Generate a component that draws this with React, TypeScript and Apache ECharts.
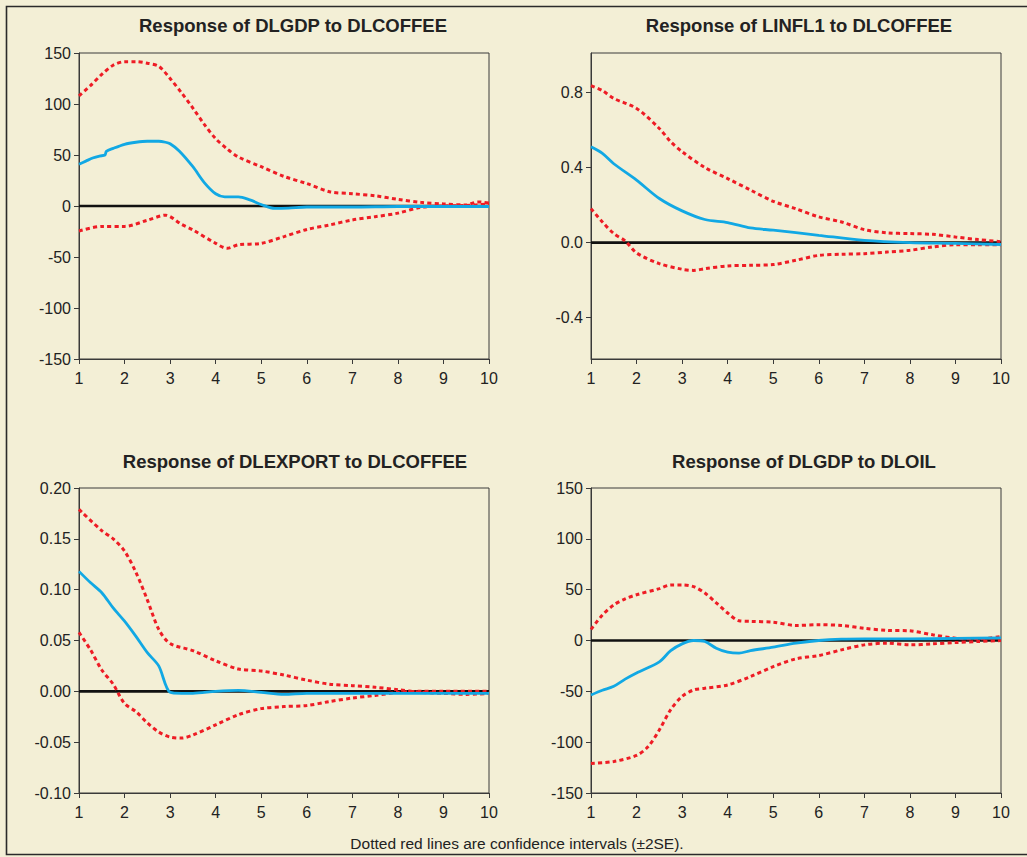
import React, { useEffect, useRef } from "react";
import * as echarts from "echarts";

// ---- Data ----
// Panel 1: Response of DLGDP to DLCOFFEE
const p1Resp: [number, number][] = [
  [1, 41], [1.15, 44], [1.3, 47], [1.45, 49], [1.57, 50], [1.6, 53.5], [1.75, 56.5], [2, 60.5],
  [2.25, 62.5], [2.5, 63.5], [2.75, 63.5], [2.9, 62.5], [3, 61], [3.2, 54], [3.5, 38.5],
  [3.75, 23], [4, 12], [4.2, 9], [4.5, 9], [4.75, 6], [5, 1.5], [5.3, -2.3], [5.6, -2],
  [6, -1], [7, -1], [8, -0.5], [9, -0.5], [10, -0.5],
];
const p1Upper: [number, number][] = [
  [1, 108], [1.25, 118], [1.5, 129], [1.75, 138], [2, 141.5], [2.25, 141.5], [2.5, 140],
  [2.75, 137], [3, 125], [3.25, 111], [3.5, 96], [3.75, 80], [4, 66], [4.25, 56], [4.5, 48],
  [5, 38.5], [5.5, 29], [6, 22], [6.5, 14], [7, 12], [7.5, 10], [8, 6.5], [8.5, 3.6],
  [9, 2], [9.5, 1], [9.75, 4], [10, 3],
];
const p1Lower: [number, number][] = [
  [1, -24.5], [1.5, -20], [2, -20], [2.5, -14], [2.9, -9], [3.25, -18], [3.5, -23.5],
  [4, -36.6], [4.25, -41.5], [4.5, -38], [5, -36.6], [5.5, -30], [6, -23], [6.5, -18.6],
  [7, -13.7], [7.5, -10.5], [8, -7], [8.5, -1.3], [9, 0], [9.5, 0.5], [10, 2],
];

// Panel 2: Response of LINFL1 to DLCOFFEE
const p2Resp: [number, number][] = [
  [1, 0.51], [1.25, 0.475], [1.5, 0.42], [2, 0.333], [2.5, 0.235], [3, 0.169], [3.5, 0.123],
  [4, 0.107], [4.5, 0.078], [5, 0.066], [6, 0.039], [7, 0.012], [8, 0], [9, -0.004], [10, -0.01],
];
const p2Upper: [number, number][] = [
  [1, 0.836], [1.25, 0.81], [1.5, 0.768], [2, 0.715], [2.5, 0.608], [2.75, 0.537], [3, 0.484],
  [3.5, 0.4], [4, 0.341], [4.5, 0.28], [5, 0.22], [5.5, 0.18], [6, 0.137], [6.5, 0.11],
  [7, 0.069], [7.5, 0.052], [8, 0.048], [8.5, 0.044], [9, 0.03], [9.5, 0.016], [10, 0.005],
];
const p2Lower: [number, number][] = [
  [1, 0.181], [1.25, 0.11], [1.5, 0.048], [1.75, 0.009], [2, -0.055], [2.5, -0.112],
  [3, -0.142], [3.25, -0.148], [3.5, -0.139], [4, -0.124], [4.5, -0.121], [5, -0.117],
  [5.5, -0.094], [6, -0.068], [6.5, -0.062], [7, -0.059], [7.5, -0.05], [8, -0.041],
  [8.5, -0.023], [9, -0.011], [9.5, -0.011], [10, -0.011],
];

// Panel 3: Response of DLEXPORT to DLCOFFEE
const p3Resp: [number, number][] = [
  [1, 0.118], [1.25, 0.107], [1.5, 0.097], [1.75, 0.082], [2, 0.069], [2.25, 0.054],
  [2.5, 0.038], [2.75, 0.025], [3, -0.001], [3.25, -0.002], [3.5, -0.002], [4, 0],
  [4.5, 0.001], [5, -0.001], [5.5, -0.003], [6, -0.002], [7, -0.002], [8, -0.002],
  [9, -0.002], [10, -0.002],
];
const p3Upper: [number, number][] = [
  [1, 0.179], [1.5, 0.158], [1.75, 0.15], [2, 0.138], [2.25, 0.117], [2.5, 0.09],
  [2.75, 0.061], [3, 0.047], [3.5, 0.04], [4, 0.03], [4.5, 0.022], [5, 0.02], [5.5, 0.016],
  [6, 0.011], [6.5, 0.007], [7, 0.0056], [7.5, 0.004], [8, 0.0016], [8.5, -0.001],
  [9, -0.002], [9.5, -0.003], [10, -0.002],
];
const p3Lower: [number, number][] = [
  [1, 0.058], [1.25, 0.041], [1.5, 0.021], [1.75, 0.007], [2, -0.012], [2.25, -0.02],
  [2.5, -0.031], [2.75, -0.04], [3, -0.045], [3.25, -0.046], [3.5, -0.043], [4, -0.033],
  [4.5, -0.023], [5, -0.017], [5.5, -0.015], [6, -0.014], [6.5, -0.01], [7, -0.0066],
  [7.5, -0.004], [8, -0.001], [8.5, 0], [9, 0], [10, 0],
];

// Panel 4: Response of DLGDP to DLOIL
const p4Resp: [number, number][] = [
  [1, -53.6], [1.25, -49], [1.5, -45], [1.75, -38], [2, -32], [2.5, -21], [2.75, -10],
  [3, -3.3], [3.25, 0], [3.5, -1], [3.75, -7.6], [4, -11.5], [4.25, -12.5], [4.5, -10],
  [5, -6.6], [5.5, -2.6], [6, 0], [6.5, 1.3], [7, 1.6], [8, 1.6], [9, 2], [10, 2.6],
];
const p4Upper: [number, number][] = [
  [1, 11], [1.25, 25], [1.5, 35], [1.75, 41], [2, 45], [2.5, 51], [2.75, 54.6], [3, 54.6],
  [3.25, 53], [3.5, 46.7], [3.75, 37], [4, 27], [4.25, 19.4], [4.5, 18.8], [5, 18],
  [5.5, 14.8], [6, 15.5], [6.5, 14.8], [7, 12], [7.5, 10], [8, 9.5], [8.5, 5.6], [9, 2.3],
  [9.5, 1.6], [10, 4],
];
const p4Lower: [number, number][] = [
  [1, -121], [1.5, -119], [2, -113], [2.25, -104.6], [2.5, -88], [2.75, -68], [3, -55],
  [3.25, -48.7], [3.5, -47], [4, -43.7], [4.5, -35.5], [5, -25.7], [5.5, -18], [6, -14.8],
  [6.5, -9.2], [7, -4.3], [7.5, -2.6], [8, -4.3], [8.5, -3.3], [9, -2], [9.5, -1], [10, 0],
];

const titles = [
  "Response of DLGDP to DLCOFFEE",
  "Response of LINFL1 to DLCOFFEE",
  "Response of DLEXPORT to DLCOFFEE",
  "Response of DLGDP to DLOIL",
];
const xRange = [1, 10];
const yRanges = [
  { min: -150, max: 150, ticks: [-150, -100, -50, 0, 50, 100, 150], dec: 0 },
  { min: -0.62, max: 1.01, ticks: [-0.4, 0, 0.4, 0.8], dec: 1 },
  { min: -0.1, max: 0.2, ticks: [-0.1, -0.05, 0, 0.05, 0.1, 0.15, 0.2], dec: 2 },
  { min: -150, max: 150, ticks: [-150, -100, -50, 0, 50, 100, 150], dec: 0 },
];
const panels = [
  { resp: p1Resp, upper: p1Upper, lower: p1Lower },
  { resp: p2Resp, upper: p2Upper, lower: p2Lower },
  { resp: p3Resp, upper: p3Upper, lower: p3Lower },
  { resp: p4Resp, upper: p4Upper, lower: p4Lower },
];
const footnote = "Dotted red lines are confidence intervals (\u00b12SE).";

const BG = "#f3efd6";
const AXIS = "#3a3a3a";
const BLUE = "#11a8e4";
const RED = "#ee1c25";
const FONT = "'Liberation Sans', Arial, sans-serif";

export default function App() {
  const ref = useRef<HTMLDivElement>(null);
  useEffect(() => {
    if (!ref.current) return;
    const chart = echarts.init(ref.current, undefined, { renderer: "svg" });

    const gridPos = [
      { left: 79, top: 53, width: 410, height: 306 },
      { left: 591, top: 53, width: 410, height: 306 },
      { left: 79, top: 488, width: 410, height: 305 },
      { left: 591, top: 488, width: 410, height: 305 },
    ];
    const titlePos = [
      { x: 293, y: 25 },
      { x: 799, y: 25 },
      { x: 295, y: 461 },
      { x: 804, y: 461 },
    ];

    const grid = gridPos.map((g) => ({
      ...g,
      show: true,
      borderColor: AXIS,
      borderWidth: 1,
      backgroundColor: "transparent",
    }));

    const xAxis = gridPos.map((_, i) => ({
      type: "value",
      gridIndex: i,
      min: xRange[0],
      max: xRange[1],
      interval: 1,
      axisLine: { show: true, onZero: false, lineStyle: { color: AXIS, width: 1 } },
      axisTick: { show: true, inside: false, length: 5, lineStyle: { color: AXIS } },
      axisLabel: { color: "#222", fontSize: 16, fontFamily: FONT, margin: 11 },
      splitLine: { show: false },
    }));

    const yAxis = yRanges.map((r, i) => ({
      type: "value",
      gridIndex: i,
      min: r.min,
      max: r.max,
      axisLine: { show: true, onZero: false, lineStyle: { color: AXIS, width: 1 } },
      axisTick: {
        show: true,
        inside: false,
        length: 5,
        lineStyle: { color: AXIS },
        customValues: r.ticks,
      },
      axisLabel: {
        color: "#222",
        fontSize: 16,
        fontFamily: FONT,
        margin: 8,
        customValues: r.ticks,
        formatter: (v: number) => v.toFixed(r.dec),
      },
      splitLine: { show: false },
    }));

    const dash = { color: RED, width: 3, type: [4, 3.2] as number[], cap: "butt" };
    const series: any[] = [];
    panels.forEach((p, i) => {
      series.push({
        type: "line",
        xAxisIndex: i,
        yAxisIndex: i,
        data: [[xRange[0], 0], [xRange[1], 0]],
        symbol: "none",
        silent: true,
        lineStyle: { color: "#111", width: 2.6 },
        z: 2,
      });
      series.push({
        type: "line",
        xAxisIndex: i,
        yAxisIndex: i,
        data: p.upper,
        symbol: "none",
        smooth: 0.3,
        lineStyle: dash,
        z: 3,
      });
      series.push({
        type: "line",
        xAxisIndex: i,
        yAxisIndex: i,
        data: p.lower,
        symbol: "none",
        smooth: 0.3,
        lineStyle: dash,
        z: 3,
      });
      series.push({
        type: "line",
        xAxisIndex: i,
        yAxisIndex: i,
        data: p.resp,
        symbol: "none",
        smooth: 0.3,
        lineStyle: { color: BLUE, width: 2.8 },
        z: 4,
      });
    });

    const graphic: any[] = [
      {
        type: "rect",
        shape: { x: 6.5, y: 6.5, width: 1060, height: 848 },
        style: { fill: "none", stroke: "#2a2a2a", lineWidth: 1.6 },
        silent: true,
        z: 0,
      },
      ...titles.map((t, i) => ({
        type: "text",
        x: titlePos[i].x,
        y: titlePos[i].y,
        style: {
          text: t,
          fill: "#222",
          font: `bold 18.5px ${FONT}`,
          textAlign: "center",
          textVerticalAlign: "middle",
        },
      })),
      {
        type: "text",
        x: 517,
        y: 843,
        style: {
          text: footnote,
          fill: "#222",
          font: `15.5px ${FONT}`,
          textAlign: "center",
          textVerticalAlign: "middle",
        },
      },
    ];

    chart.setOption({
      animation: false,
      backgroundColor: BG,
      grid,
      xAxis,
      yAxis,
      series,
      graphic,
    });
    return () => chart.dispose();
  }, []);

  return (
    <div
      ref={ref}
      style={{ position: "fixed", left: 0, top: 0, width: 1027, height: 857 }}
    />
  );
}
